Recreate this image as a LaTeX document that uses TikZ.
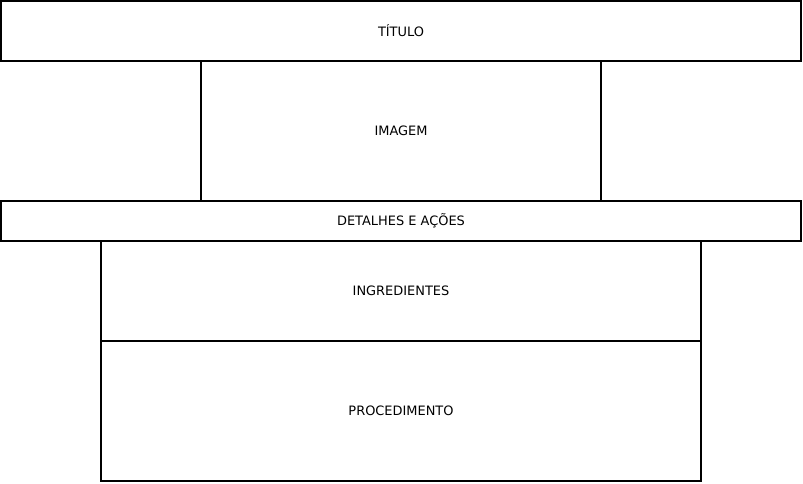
\documentclass[tikz,border=0pt]{standalone}
\usepackage{fontspec}
\setmainfont{DejaVu Sans}
\begin{document}
\begin{tikzpicture}[x=0.75pt,y=-0.75pt,
  box/.style={draw=black,line width=1.5pt,fill=white,rectangle,inner sep=0pt,
    font=\fontsize{9.7pt}{11.5pt}\selectfont,text=black}]
\useasboundingbox[fill=white] (0,0) rectangle (803,483);
\node[box,minimum width=300pt,minimum height=105pt] (imagem) at (401,131) {IMAGEM};
\node[box,minimum width=450pt,minimum height=105pt] (proc) at (401,411) {PROCEDIMENTO};
\node[box,minimum width=450pt,minimum height=75pt] (ingr) at (401,291) {INGREDIENTES};
\node[box,minimum width=600pt,minimum height=45pt] (titulo) at (401,31) {TÍTULO};
\node[box,minimum width=600pt,minimum height=30pt] (det) at (401,221) {DETALHES E AÇÕES};
\end{tikzpicture}
\end{document}
